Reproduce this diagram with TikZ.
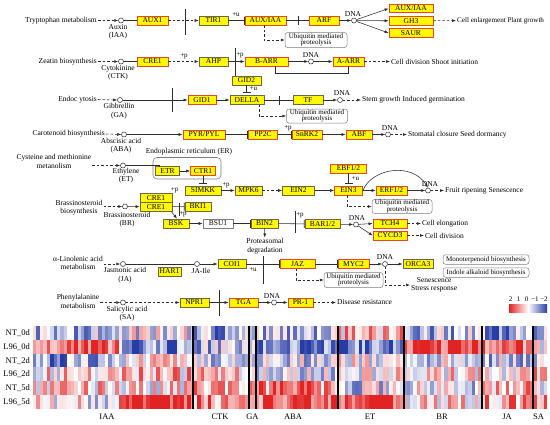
\documentclass[tikz,border=0pt]{standalone}
\usepackage{fontspec}
\setmainfont{Liberation Serif}
\usetikzlibrary{arrows.meta,calc}
\definecolor{genered}{RGB}{232,70,40}
\definecolor{genegray}{RGB}{105,105,70}
\definecolor{geneyellow}{RGB}{255,248,0}
\definecolor{hmred}{RGB}{225,35,35}
\definecolor{hmblue}{RGB}{40,60,165}
\definecolor{lnc}{RGB}{45,45,45}
\definecolor{ubg}{RGB}{125,125,125}
\begin{document}
\begin{tikzpicture}[x=1pt,y=-1pt,
  every node/.style={font=\fontsize{7.5}{8.5}\selectfont},
  gene/.style={draw=genered, fill=geneyellow, line width=0.7pt, minimum height=9pt, inner sep=0pt},
  gg/.style={gene, draw=genegray},
  ubq/.style={draw=ubg, rounded corners=2.5pt, fill=white, align=center, inner sep=0.5pt, font=\fontsize{7}{6.6}\selectfont, line width=0.5pt},
  dnac/.style={circle, draw=lnc, fill=white, minimum size=5pt, inner sep=0pt, line width=0.5pt},
  lbl/.style={inner sep=1pt, align=center},
  sml/.style={inner sep=0pt, font=\fontsize{7}{7}\selectfont},
  act/.style={draw=lnc, line width=0.55pt, -{Latex[length=4pt,width=3pt]}},
  inh/.style={draw=lnc, line width=0.55pt, -{Bar[width=8pt,line width=0.8pt]}},
  ln/.style={draw=lnc, line width=0.55pt},
  dsh/.style={dash pattern=on 2.5pt off 2pt},
  mem/.style={draw=lnc, line width=0.9pt},
  hml/.style={inner sep=1pt, font=\fontsize{8.5}{9}\selectfont}
]
\useasboundingbox (0,0) rectangle (550,424);
\fill[white] (0,0) rectangle (550,424);

% ---------- Row 1: Tryptophan / Auxin ----------
\node[lbl, anchor=east] (t1) at (98,20.5) {Tryptophan metabolism};
\node[dnac] (c1) at (121,20.5) {};
\node[lbl, anchor=north] (c1l) at (118,23) {Auxin\\(IAA)};
\node[gene, minimum width=31] (aux1) at (152.5,20.5) {AUX1};
\node[gg, minimum width=29] (tir1) at (213.5,20.5) {TIR1};
\node[gene, minimum width=41] (aux2) at (265.5,20.5) {AUX/IAA};
\node[gene, minimum width=30] (arf) at (324,20.5) {ARF};
\node[dnac] (d1) at (354,20.5) {};
\node[lbl] (d1l) at (353,14) {DNA};
\node[gene, minimum width=44, minimum height=8.5] (aux3) at (411,8.5) {AUX/IAA};
\node[gene, minimum width=44, minimum height=8.5] (gh3) at (411,20.8) {GH3};
\node[gene, minimum width=44, minimum height=8.5] (saur) at (411,33) {SAUR};
\node[lbl, anchor=west, font=\fontsize{7.1}{8}\selectfont] (o1) at (456,20.5) {Cell enlargement Plant growth};
\node[ubq, minimum width=62, minimum height=15] (u1) at (316,40) {Ubiquitin mediated\\proteolysis};
\node[sml] (pu1) at (236,14.5) {+u};

\draw[act,dsh] (t1.east) -- (c1.west);
\draw[ln] (c1) -- (aux1);
\draw[act,dsh] (aux1) -- (tir1);
\draw[mem] (185,9) -- (185,35);
\draw[inh] (tir1) -- (aux2);
\draw[ln] (aux2) -- (arf);
\draw[ln] (298,16) -- (298,25);
\draw[act] (arf) -- (d1);
\draw[act] (d1) -- (aux3.west);
\draw[act] (d1) -- (gh3.west);
\draw[act] (d1) -- (saur.west);
\draw[act,dsh] (gh3) -- (o1);
\draw[act,dsh] ([xshift=-1.5]aux2.south) |- (u1.west);

% ---------- Row 2: Zeatin / CTK ----------
\node[lbl, anchor=east] (t2) at (98,61.5) {Zeatin biosynthesis};
\node[dnac] (c2) at (121,61.5) {};
\node[lbl, anchor=north] (c2l) at (118,64) {Cytokinine\\(CTK)};
\node[gene, minimum width=31] (cre1) at (152.5,61.5) {CRE1};
\node[gg, minimum width=29] (ahp) at (213.5,61.5) {AHP};
\node[gene, minimum width=43] (barr) at (266.5,61.5) {B-ARR};
\node[dnac] (d2) at (311,61.5) {};
\node[lbl] (d2l) at (311,55.5) {DNA};
\node[gene, minimum width=31] (aarr) at (348.5,61.5) {A-ARR};
\node[lbl, anchor=west] (o2) at (390,61.5) {Cell division Shoot initiation};
\node[gg, minimum width=29] (gid2) at (246.5,80.5) {GID2};
\node[sml] (pp1) at (184,56.5) {+p};
\node[sml] (pp2) at (240,55.5) {+p};
\coordinate (v1) at (235,48);

\draw[act,dsh] (t2.east) -- (c2.west);
\draw[ln] (c2) -- (cre1);
\draw[act,dsh] (cre1) -- (ahp);
\draw[act] (ahp) -- (barr);
\draw[mem] (v1) -- (v1 |- gid2.north);
\draw[act] (barr) -- (d2);
\draw[act] (d2) -- (aarr);
\draw[act,dsh] (aarr) -- (o2);
\draw[ln] ([xshift=8.5]barr.south) -- ++(0,7) -| (aarr.south);

% ---------- Row 3: Endocytosis / GA ----------
\node[lbl, anchor=east] (t3) at (98,99.5) {Endoc ytosis};
\node[dnac] (c3) at (120,100) {};
\node[lbl, anchor=north] (c3l) at (119,102.5) {Gibbrellin\\(GA)};
\node[gene, minimum width=28] (gid1) at (202,100) {GID1};
\node[gg, minimum width=34] (della) at (247,100) {DELLA};
\node[gg, minimum width=30] (tf) at (308,100) {TF};
\node[dnac] (d3) at (340,100) {};
\node[lbl] (d3l) at (342,93.5) {DNA};
\node[lbl, anchor=west] (o3) at (361,100) {Stem growth Induced germination};
\node[ubq, minimum width=61, minimum height=14] (u2) at (317,116) {Ubiquitin mediated\\proteolysis};
\node[sml] (pu2) at (253.5,89) {+u};

\draw[act,dsh] (t3.east) -- (c3.west);
\draw[act] (c3) -- (gid1);
\draw[mem] (172,88) -- (172,112);
\draw[act] (gid1) -- (della);
\draw[inh] (gid2.south) -- ([yshift=2]della.north -| gid2.south);
\draw[ln] (della) -- (tf);
\draw[ln] (279,96) -- (279,104.5);
\draw[act] (tf) -- (d3);
\draw[act,dsh] (d3) -- (o3);
\draw[act,dsh] ([xshift=12]della.south) |- (u2.west);

% ---------- Row 4: Carotenoid / ABA ----------
\node[lbl, anchor=east] (t4) at (106,134) {Carotenoid biosynthesis};
\node[dnac] (c4) at (124,134.5) {};
\node[lbl, anchor=north] (c4l) at (121,137) {Abscisic acid\\(ABA)};
\node[gene, minimum width=42] (pyr) at (204,134.5) {PYR/PYL};
\node[gene, minimum width=29] (pp2c) at (263,134.5) {PP2C};
\node[gene, minimum width=30] (snrk) at (307,134.5) {SnRK2};
\node[gene, minimum width=26] (abf) at (359,134.5) {ABF};
\node[dnac] (d4) at (388,134.5) {};
\node[lbl] (d4l) at (390,128) {DNA};
\node[lbl, anchor=west] (o4) at (407,134.5) {Stomatal closure Seed dormancy};
\node[sml] (pp3) at (288,128.5) {+p};

\draw[act,dsh] (t4.east) -- (c4.west);
\draw[act] (c4) -- (pyr);
\draw[inh] (pyr) -- (pp2c);
\draw[inh] (pp2c) -- (snrk);
\draw[act] (snrk) -- (abf);
\draw[act] (abf) -- (d4);
\draw[act,dsh] (d4) -- (o4);

% ---------- Row 5: Ethylene ----------
\node[lbl] (t5) at (54,161.5) {Cysteine and methionine\\metanolism};
\node[dnac] (c5) at (123,165.5) {};
\node[lbl, anchor=north] (c5l) at (126,167) {Ethylene\\(ET)};
\node[lbl] (erl) at (189,152) {Endoplasmic reticulum (ER)};
\draw[ubg, line width=0.6pt, rounded corners=4pt] (153,157.5) rectangle (221,179);
\node[gg, minimum width=24] (etr) at (167.5,171) {ETR};
\node[gene, minimum width=25] (ctr1) at (203,171) {CTR1};
\node[gg, minimum width=36] (simkk) at (203,190.5) {SIMKK};
\node[gg, minimum width=27] (mpk6) at (248.5,190.5) {MPK6};
\node[gg, minimum width=32] (ein2) at (298.5,190.5) {EIN2};
\node[gene, minimum width=28] (ein3) at (348.5,190.5) {EIN3};
\node[gene, minimum width=36] (ebf) at (348.5,168.5) {EBF1/2};
\node[gene, minimum width=31] (erf) at (391.5,190.5) {ERF1/2};
\node[dnac] (d5) at (428,190.5) {};
\node[lbl] (d5l) at (430,184) {DNA};
\node[lbl, anchor=west] (o5) at (444,190.5) {Fruit ripening Senescence};
\node[ubq, minimum width=60, minimum height=13.5] (u3) at (402,206.5) {Ubiquitin mediated\\proteolysis};
\node[sml] (pp4) at (226,185.5) {+p};
\node[sml] (pu3) at (355.5,178.5) {+u};

\draw[act,dsh] (t5.east |- c5) -- (c5.west);
\draw[ln] (c5) -| ([xshift=4]etr.north west);
\draw[act] (etr) -- (ctr1);
\draw[inh] (ctr1.south) -- ([yshift=2]simkk.north -| ctr1.south);
\draw[act] (simkk) -- (mpk6);
\draw[act,dsh] (mpk6) -- (ein2);
\draw[act] (ein2) -- (ein3);
\draw[inh] (ebf.south) -- ([yshift=2]ein3.north);
\draw[act] (ein3) -- (erf);
\draw[act] (erf) -- (d5);
\draw[act] (ein3.east) .. controls (372,168) and (412,162) .. (d5.north);
\draw[act,dsh] (d5) -- (o5);
\draw[act,dsh] ([xshift=-1.5]ein3.south) |- (u3.west);

% ---------- Row 6: Brassinosteroid ----------
\node[lbl] (t6) at (79,207.5) {Brassinosteroid\\biosynthesis};
\node[dnac] (c6) at (125,206.5) {};
\node[lbl, anchor=north] (c6l) at (127,211) {Brassinosteroid\\(BR)};
\node[gg, minimum width=32] (cre1a) at (156,197.7) {CRE1};
\node[gg, minimum width=32] (cre1b) at (156,206.7) {CRE1};
\node[gg, minimum width=26] (bki1) at (198,206.5) {BKI1};
\node[gg, minimum width=26] (bsk) at (176,223.5) {BSK};
\node[gene, draw=ubg, fill=white, minimum width=30] (bsu1) at (218,223.5) {BSU1};
\node[gg, minimum width=27] (bin2) at (264.5,223.5) {BIN2};
\node[lbl, anchor=north] (prot) at (265,237.5) {Proteasomal\\degradation};
\node[gg, minimum width=35] (bar) at (322.5,224) {BAR1/2};
\node[dnac] (d6) at (356,224.5) {};
\node[lbl] (d6l) at (357,218.5) {DNA};
\node[gene, minimum width=34] (tch4) at (390,223.5) {TCH4};
\node[gene, minimum width=34] (cycd) at (390,235.5) {CYCD3};
\node[lbl, anchor=west] (o6a) at (421,223.5) {Cell elongation};
\node[lbl, anchor=west] (o6b) at (424,235.5) {Cell division};
\node[sml] (pp5) at (174.5,190.5) {+p};
\node[sml] (pp6) at (183,214) {+p};
\node[sml] (pp7) at (300,215) {+p};

\draw[act,dsh] (t6.east |- c6) -- (c6.west);
\draw[act] (c6) -- (cre1b);
\draw[inh] (cre1b) -- (bki1);
\draw[ln] (179.5,203) -- (179.5,216);
\draw[act] ([xshift=-1]cre1b.south east) -- ([xshift=1]bsk.north);
\draw[act] (bsk) -- (bsu1);
\draw[inh] (bsu1) -- (bin2);
\draw[act] (bin2) -- (prot);
\draw[mem] (295,211) -- (295,233);
\draw[inh] (bin2) -- (bar);
\draw[act] (bar) -- (d6);
\draw[act] (d6) -- (tch4.west);
\draw[act] (d6) -- (cycd.west);
\draw[act,dsh] (tch4) -- (o6a);
\draw[act,dsh] (cycd) -- (o6b);

% ---------- Row 7: Jasmonic acid ----------
\node[lbl] (t7) at (78,263) {α-Linolenic acid\\metabolism};
\node[dnac] (c7) at (123,264) {};
\node[lbl, anchor=north] (c7l) at (125,266.5) {Jasmonic acid\\(JA)};
\node[gg, minimum width=23] (har1) at (169.5,271.5) {HAR1};
\node[dnac] (c8) at (197,264) {};
\node[lbl, anchor=north] (c8l) at (201,267) {JA-Ile};
\node[gg, minimum width=28] (coi1) at (232,264) {COI1};
\node[gene, minimum width=35] (jaz) at (297.5,264) {JAZ};
\node[gene, minimum width=31] (myc2) at (353.5,264) {MYC2};
\node[dnac] (d7) at (385,264) {};
\node[lbl] (d7l) at (385,257.5) {DNA};
\node[gg, minimum width=30] (orca) at (418,264) {ORCA3};
\node[ubq, minimum width=86, minimum height=9.5] (mono) at (486,259.5) {Monoterpenoid biosynthesis};
\node[ubq, minimum width=86, minimum height=9.5] (indo) at (486,272.5) {Indole alkaloid biosynthesis};
\node[ubq, minimum width=59, minimum height=15] (u4) at (353.5,280) {Ubiquitin mediated\\proteolysis};
\node[lbl, anchor=west] (o7) at (410,285) {Senescence\\Stress response};
\node[sml] (pu4) at (253,269.5) {+u};

\draw[act,dsh] (t7.east |- c7) -- (c7.west);
\draw[ln] (c7) -- (c8);
\draw[act] (c8) -- (coi1);
\draw[mem] (263.5,256) -- (263.5,284);
\draw[inh] (coi1) -- (jaz);
\draw[inh] (jaz) -- (myc2);
\draw[act] (myc2) -- (d7);
\draw[act] (d7) -- (orca);
\draw[act,dsh] ([xshift=-1.5]jaz.south) |- (u4.west);
\draw[act,dsh] (d7.south) |- (o7.west);

% ---------- Row 8: Salicylic acid ----------
\node[lbl] (t8) at (78,301.5) {Phenylalanine\\metabolism};
\node[dnac] (c9) at (123,302.5) {};
\node[lbl, anchor=north] (c9l) at (127,305) {Salicylic acid\\(SA)};
\node[gg, minimum width=29] (npr1) at (194.5,302.5) {NPR1};
\node[gene, minimum width=29] (tga) at (243.5,302.5) {TGA};
\node[dnac] (d9) at (274,302.5) {};
\node[lbl] (d9l) at (272,296.5) {DNA};
\node[gene, minimum width=25] (pr1) at (300.5,302.5) {PR-1};
\node[lbl, anchor=west] (o8) at (336,302.5) {Disease resistance};

\draw[act,dsh] (t8.east |- c9) -- (c9.west);
\draw[act,dsh] (c9) -- (npr1);
\draw[mem] (219,290) -- (219,316);
\draw[act] (npr1) -- (tga);
\draw[act] (tga) -- (d9);
\draw[act] (d9) -- (pr1);
\draw[act,dsh] (pr1) -- (o8);

% ---------- Legend ----------
\node[sml] (lg1) at (510.5,299.5) {2};
\node[sml] (lg2) at (518.5,299.5) {1};
\node[sml] (lg3) at (526.5,299.5) {0};
\node[sml] (lg4) at (535,299.5) {−1};
\node[sml] (lg5) at (544,299.5) {−2};
\shade[left color=hmred, right color=white] (509,304) rectangle (528,312);
\shade[left color=white, right color=hmblue] (528,304) rectangle (547,312);

% ---------- Heatmap ----------
\def\biasarr{{-0.6,-0.2,-0.8,-0.3,-0.6,0.5,-0.5,-0.8,-0.5,
  1.5,-1.2,-0.6,0,-1.2,-1.2,1.5,1.2,0.4,
  -0.9,0,-0.2,-0.5,-0.3,0,-0.3,-0.4,-0.8,
  0.3,0.5,0.3,0,-0.4,0.2,0.2,0,0.5,
  0.3,0.2,0.8,0.5,1.2,-0.3,-0.2,0.5,0.3,
  0,1.8,0.8,0.5,1.5,1.6,0.3,0.8,0.8}}
\pgfmathsetseed{17}
\foreach \c in {0,...,149} {
  \pgfmathsetmacro\xa{33+\c*3.4267}
  \pgfmathsetmacro\xm{\xa+1.7}
  \pgfmathtruncatemacro\g{(\xm>120)+(\xm>193)+(\xm>249)+(\xm>256)+(\xm>338)+(\xm>404)+(\xm>482)+(\xm>533)}
  \foreach \r in {0,...,5} {
    \pgfmathsetmacro\b{\biasarr[\r*9+\g]}
    \pgfmathsetmacro\v{max(-2,min(2,\b+1.1*rand))}
    \pgfmathtruncatemacro\p{min(100,abs(\v)*55)}
    \ifdim \v pt>0pt \def\hc{hmred}\else\def\hc{hmblue}\fi
    \fill[\hc!\p!white] (\xa,326+\r*13.83) rectangle ++(3.5,13.9);
  }
}
\foreach \xs in {193,249,256,338,404,482,533} {
  \draw[black, line width=1.3pt] (\xs,326) -- (\xs,409);
}
\node[hml, anchor=east] (r1) at (31,332.9) {NT\_0d};
\node[hml, anchor=east] (r2) at (31,346.7) {L96\_0d};
\node[hml, anchor=east] (r3) at (31,360.6) {NT\_2d};
\node[hml, anchor=east] (r4) at (31,374.4) {L96\_2d};
\node[hml, anchor=east] (r5) at (31,388.2) {NT\_5d};
\node[hml, anchor=east] (r6) at (31,402.1) {L96\_5d};
\node[hml] (g1) at (107,416.5) {IAA};
\node[hml] (g2) at (220,416.5) {CTK};
\node[hml] (g3) at (252.5,416.5) {GA};
\node[hml] (g4) at (293,416.5) {ABA};
\node[hml] (g5) at (370,416.5) {ET};
\node[hml] (g6) at (442,416.5) {BR};
\node[hml] (g7) at (507,416.5) {JA};
\node[hml] (g8) at (538.5,416.5) {SA};
\end{tikzpicture}
\end{document}
